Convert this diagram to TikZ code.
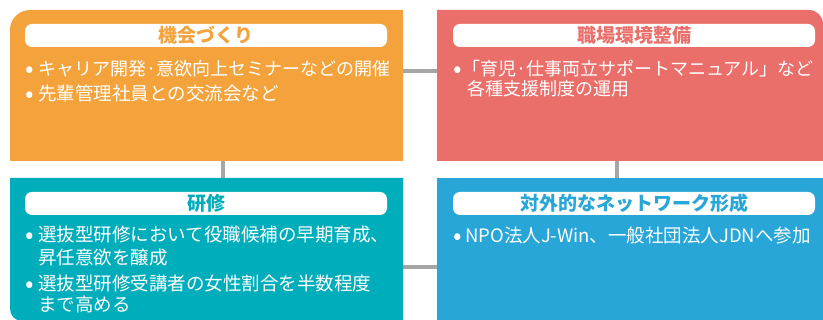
\documentclass[tikz,border=0pt]{standalone}
\usepackage{fontspec}
\setmainfont{Noto Sans CJK JP}
\definecolor{orangeC}{HTML}{F4A33C}
\definecolor{redC}{HTML}{EA6E69}
\definecolor{tealC}{HTML}{00ADBB}
\definecolor{blueC}{HTML}{28A6D8}
\definecolor{grayC}{HTML}{A6A6A6}
\tikzset{
  conn/.style={draw=grayC, line width=3.5pt},
  titlebar/.style={fill=white, rounded corners=7pt},
  titletext/.style={inner sep=0pt, anchor=center, font=\fontsize{19pt}{21pt}\selectfont\bfseries},
  bodytext/.style={inner sep=0pt, anchor=base west, text=white, font=\fontsize{18.5pt}{20pt}\selectfont},
  narrowtext/.style={bodytext, font=\fontsize{18pt}{20pt}\selectfont},
  bullettext/.style={inner sep=0pt, anchor=base, text=white, font=\fontsize{25pt}{26pt}\selectfont, yshift=-1.5pt},
}
\begin{document}
\begin{tikzpicture}[x=1pt,y=1pt]
\useasboundingbox (0,0) rectangle (823,320);
\clip (0,0) rectangle (823,320);
% connector end points
\coordinate (oE) at (403,249);
\coordinate (rW) at (437,249);
\coordinate (oS) at (223,159);
\coordinate (tN) at (223,142);
\coordinate (rS) at (617,159);
\coordinate (bN) at (617,142);
\coordinate (tE) at (403,53);
\coordinate (bW) at (437,53);
\draw[conn] (oE) -- (rW);
\draw[conn] (oS) -- (tN);
\draw[conn] (rS) -- (bN);
\draw[conn] (tE) -- (bW);
% boxes
\fill[orangeC] (10,159) -- (10,290) arc[start angle=180,end angle=90,radius=20pt] -- (403,310) -- (403,159) -- cycle;
\fill[redC] (437,159) -- (437,310) -- (809,310) arc[start angle=90,end angle=0,radius=14pt] -- (823,159) -- cycle;
\fill[tealC] (10,142) -- (10,11) arc[start angle=180,end angle=270,radius=12pt] -- (403,-1) -- (403,142) -- cycle;
\fill[blueC] (437,142) -- (437,-5) -- (830,-5) -- (830,142) -- cycle;
% title bars
\fill[titlebar] (25,273) rectangle (387,296);
\fill[titlebar] (453,273) rectangle (815,296);
\fill[titlebar] (25,105) rectangle (387,128);
\fill[titlebar] (453,105) rectangle (815,128);
% titles
\node[titletext, text=orangeC] (t1) at (206,284.5) {機会づくり};
\node[titletext, text=redC] (t2) at (634,284.5) {職場環境整備};
\node[titletext, text=tealC] (t3) at (206,116.5) {研修};
\node[titletext, text=blueC] (t4) at (634,116.5) {対外的なネットワーク形成};
% orange body
\node[bullettext] (ob1) at (30,244) {•};
\node[narrowtext] (ol1) at (38,244) {キャリア開発·意欲向上セミナーなどの開催};
\node[bullettext] (ob2) at (30,219) {•};
\node[bodytext] (ol2) at (38,219) {先輩管理社員との交流会など};
% red body
\node[bullettext] (rb1) at (458,244) {•};
\node[narrowtext] (rl1) at (462,244) {「育児·仕事両立サポートマニュアル」など};
\node[narrowtext] (rl2) at (467,224) {各種支援制度の運用};
% teal body
\node[bullettext] (tb1) at (30,78) {•};
\node[bodytext] (tl1) at (38,78) {選抜型研修において役職候補の早期育成、};
\node[bodytext] (tl2) at (38,55) {昇任意欲を醸成};
\node[bullettext] (tb2) at (30,29) {•};
\node[bodytext] (tl3) at (38,29) {選抜型研修受講者の女性割合を半数程度};
\node[bodytext] (tl4) at (38,8) {まで高める};
% blue body
\node[bullettext] (bb1) at (458,77) {•};
\node[bodytext] (bl1) at (465,77) {NPO法人J-Win、一般社団法人JDNへ参加};
\end{tikzpicture}
\end{document}
